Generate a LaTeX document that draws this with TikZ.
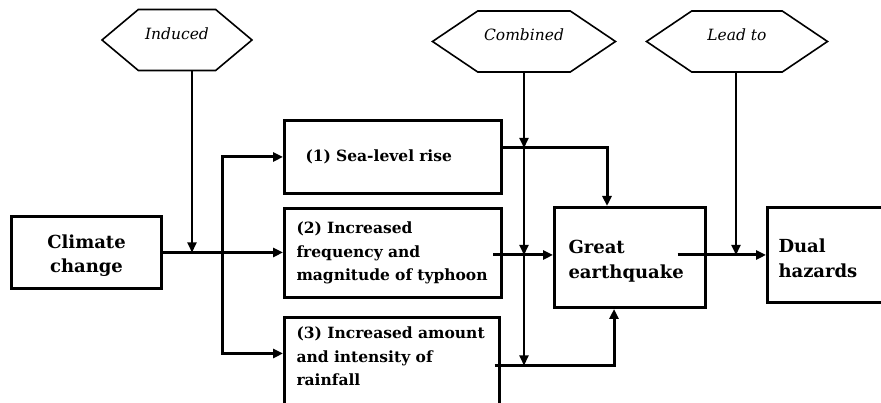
\documentclass[tikz,border=0pt]{standalone}
\usepackage{fontspec}
\setmainfont{DejaVu Serif}
\usetikzlibrary{arrows.meta,positioning,shapes.symbols}

\newcommand{\topgap}{\rule{0pt}{20.5pt}}

\begin{document}
\begin{tikzpicture}[x=1pt, y=1pt,
    box/.style={draw, line width=3pt, inner xsep=12pt, inner ysep=6pt,
        font=\bfseries\fontsize{15.5}{23.5}\selectfont, align=left},
    bigbox/.style={draw, line width=3pt, inner xsep=13pt,
        font=\bfseries\fontsize{18}{24.5}\selectfont},
    hexa/.style={draw, line width=1.6pt, shape=signal, signal to=east and west,
        minimum height=61pt, inner sep=0pt, text height=11pt, text depth=12pt,
        font=\itshape\fontsize{15.5}{17}\selectfont},
    flow/.style={line width=3pt, -{Triangle[length=10pt,width=9pt]}},
    feed/.style={line width=2pt, -{Triangle[length=10pt,width=9pt]}}
]

\useasboundingbox (0,0) rectangle (881,403);

% ===============================================================
% Top: hexagon labels
% ===============================================================

\node[hexa, signal pointer angle=80, minimum width=150pt] (induced)  at (177,363)   {Induced};
\node[hexa, signal pointer angle=68, minimum width=183pt] (combined) at (524,361.5) {Combined};
\node[hexa, signal pointer angle=68, minimum width=181pt] (leadto)   at (737,361.5) {Lead to};

% ===============================================================
% Boxes
% ===============================================================

\node[bigbox, minimum width=150pt, minimum height=72pt, align=center] (climate) at (86.5,150.5)
    {\topgap Climate\\change};

\node[box, inner xsep=21pt, text width=175pt, minimum height=73pt] (box1) at (393,246) {(1) Sea-level rise};
\node[box, text width=193pt, minimum height=89pt] (box2) at (393,150)
    {(2) Increased\\frequency and\\magnitude of typhoon};

% third box runs off the bottom edge
\node[box, minimum width=215pt, minimum height=110pt, anchor=north] (box3) at (392,86.5) {};
\node[box, draw=none, inner sep=0pt, anchor=north west] (box3txt) at ([xshift=12,yshift=-9]box3.north west)
    {(3) Increased amount\\and intensity of\\rainfall};

\node[bigbox, align=left, inner xsep=14pt, text width=123pt, minimum height=100pt] (quake) at (630,145.5)
    {\topgap Great\\earthquake};
\node[bigbox, align=left, inner xsep=11pt, text width=135pt, minimum height=95pt] (dual) at (846,148)
    {\topgap Dual\\hazards};

% ===============================================================
% Flows between boxes
% ===============================================================

\coordinate (split) at (222,150.5);
\coordinate (p1) at ([yshift=9]box1.east);
\coordinate (p2) at ([xshift=-10,yshift=-2]box2.east);
\coordinate (p3) at ([xshift=-6.5,yshift=7.5]box3.east);
\coordinate (q1) at ([xshift=-29.5,yshift=2.5]quake.east);

\draw[flow] (climate.east) -- (climate.east -| box2.west);
\draw[flow] (split) |- (box1.west);
\draw[flow] (split) |- ([yshift=19.5]box3.west);

\draw[flow] (p1) -| ([xshift=-23]quake.north);
\draw[flow] (p2) -- (p2 -| quake.west);
\draw[flow] (p3) -| ([xshift=-16]quake.south);
\draw[flow] (q1) -- (q1 -| dual.west);

% ===============================================================
% Feeds from the hexagons
% ===============================================================

\coordinate (i1) at ([xshift=15]induced.south);
\draw[feed] (i1) -- (i1 |- split);

\draw[feed] (combined.south) -- (combined.south |- p1);
\draw[feed] (combined.south |- p1) -- (combined.south |- p2);
\draw[feed] (combined.south |- p2) -- (combined.south |- p3);

\draw[feed] ([xshift=-1]leadto.south) -- ([xshift=-1]leadto.south |- q1);

\end{tikzpicture}
\end{document}
